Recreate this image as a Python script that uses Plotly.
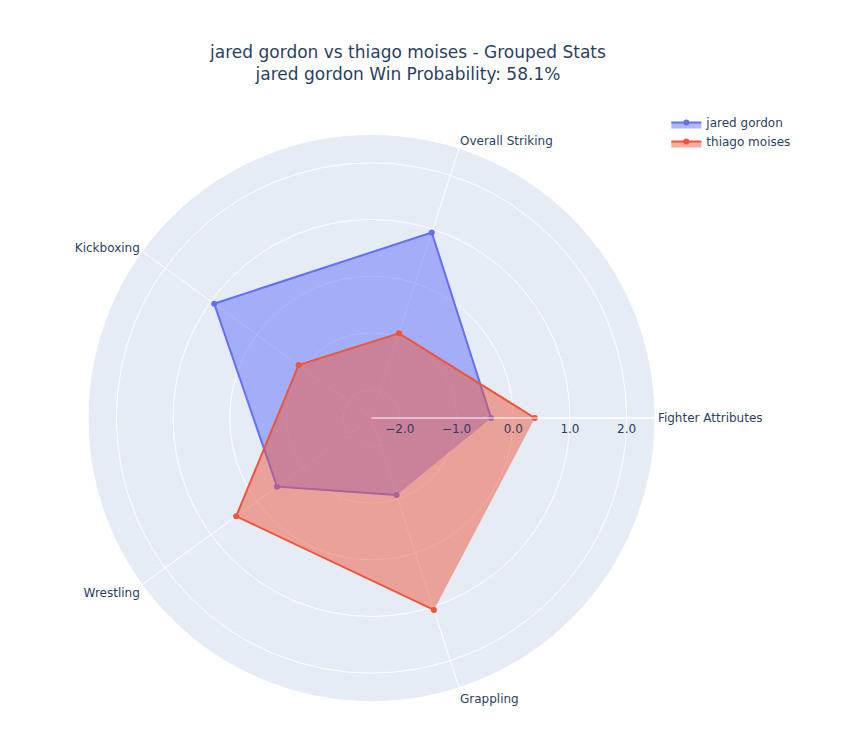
import plotly.graph_objects as go

categories = ['Fighter Attributes', 'Overall Striking', 'Kickboxing', 'Wrestling', 'Grappling']
fighter_a = 'jared gordon'
fighter_b = 'thiago moises'
values_a = [-0.39, 0.94, 0.93, -0.44, -1.07]
values_b = [0.38, -0.93, -0.91, 0.45, 1.06]
win_prob = 58.1

fig = go.Figure()
fig.add_trace(go.Scatterpolar(r=values_a, theta=categories, fill='toself', name=fighter_a))
fig.add_trace(go.Scatterpolar(r=values_b, theta=categories, fill='toself', name=fighter_b))

fig.update_layout(
    polar=dict(radialaxis=dict(visible=True, range=[-2.5, 2.5], tickformat='.1f')),
    title=dict(text=f'{fighter_a} vs {fighter_b} - Grouped Stats<br>{fighter_a} Win Probability: {win_prob}%', x=0.5),
    font=dict(family='Verdana, DejaVu Sans, sans-serif'),
    showlegend=True,
    width=800,
    height=800,
)
fig.write_html("out.html")
